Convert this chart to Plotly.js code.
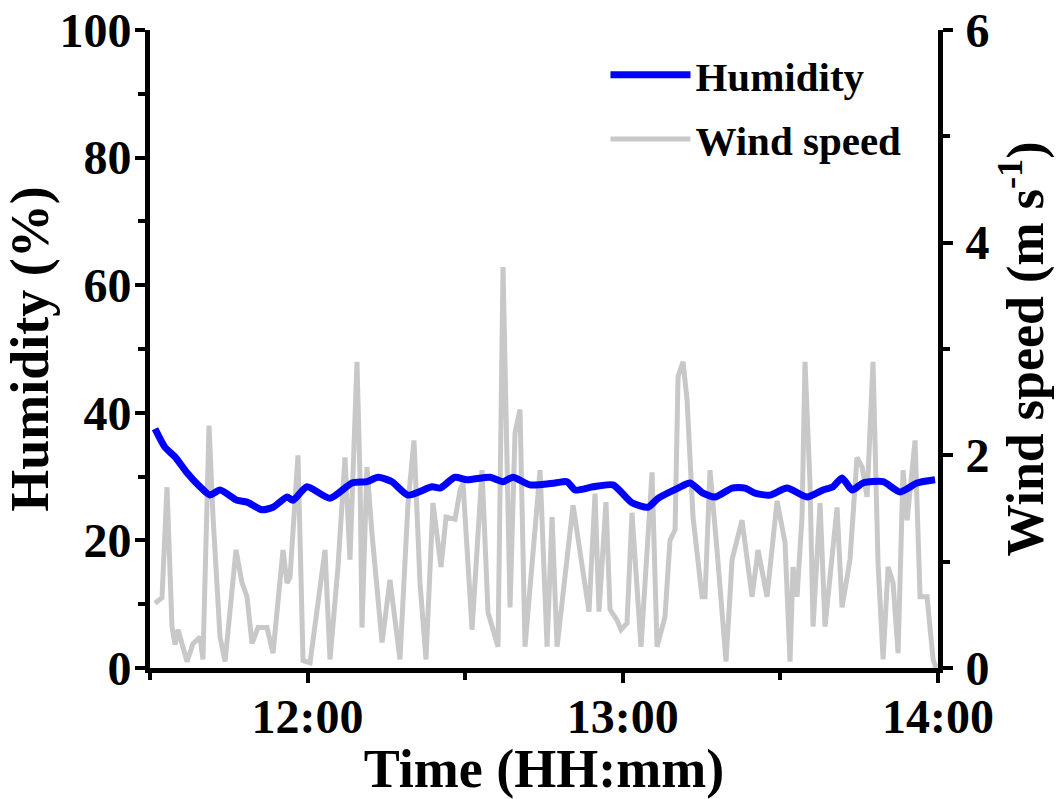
<!DOCTYPE html>
<html>
<head>
<meta charset="utf-8">
<script src="https://cdn.plot.ly/plotly-3.0.1.min.js"></script>
<style>html,body{margin:0;padding:0;background:#fff;}#chart{width:1057px;height:799px;}</style>
</head>
<body>
<div id="chart"></div>
<script>
var DAY = '2024-01-01 ';

var humidityTime = ['11:30:57','11:32:51','11:34:46','11:37:03','11:39:31','11:41:25','11:43:20','11:46:34','11:48:28','11:51:19','11:53:25','11:56:05','11:57:13','11:59:53','12:04:16','12:08:27','12:11:18','12:13:24','12:16:04','12:19:07','12:23:41','12:25:13','12:28:04','12:30:21','12:34:43','12:37:12','12:39:06','12:42:20','12:47:06','12:49:23','12:50:55','12:54:20','12:58:08','13:01:45','13:04:48','13:06:43','13:10:31','13:12:48','13:15:16','13:17:34','13:20:48','13:23:16','13:25:10','13:28:02','13:31:16','13:35:04','13:38:07','13:40:01','13:41:44','13:43:38','13:45:44','13:49:33','13:52:47','13:56:01','13:59:26'];
var humidity = [37.5,34.6,33.1,30.6,28.4,27.1,27.9,26.3,26.0,24.8,25.2,26.8,26.3,28.4,26.6,29.0,29.2,29.9,29.2,27.1,28.4,28.2,29.9,29.5,29.9,29.2,29.9,28.7,29.0,29.2,27.9,28.4,28.7,25.9,25.2,26.6,28.2,29.0,27.4,26.8,28.2,28.2,27.4,27.1,28.2,26.8,27.9,28.4,29.8,27.9,29.0,29.2,27.6,29.0,29.5];

var windTime = ['11:30:57','11:32:17','11:33:14','11:34:11','11:34:46','11:35:20','11:37:03','11:38:11','11:39:31','11:40:05','11:41:14','11:42:00','11:43:20','11:44:17','11:46:22','11:47:31','11:48:28','11:49:25','11:50:34','11:52:16','11:53:25','11:55:19','11:56:05','11:56:39','11:58:10','11:59:08','12:00:28','12:03:19','12:04:16','12:05:47','12:07:07','12:08:04','12:09:24','12:09:59','12:10:21','12:11:18','12:12:15','12:14:10','12:15:41','12:17:35','12:19:07','12:20:15','12:21:24','12:22:32','12:23:52','12:25:24','12:26:21','12:28:04','12:29:01','12:29:35','12:31:18','12:33:12','12:34:21','12:36:15','12:37:12','12:38:32','12:39:29','12:40:26','12:41:23','12:44:15','12:45:35','12:46:32','12:47:29','12:50:32','12:53:34','12:54:43','12:55:28','12:56:48','12:57:34','12:58:54','12:59:40','13:00:48','13:01:45','13:03:28','13:05:34','13:06:31','13:08:02','13:08:59','13:09:57','13:10:31','13:11:28','13:12:14','13:13:22','13:15:05','13:15:39','13:16:36','13:17:56','13:19:39','13:20:48','13:22:42','13:24:36','13:25:45','13:27:27','13:29:22','13:30:53','13:31:50','13:32:24','13:33:10','13:34:07','13:34:41','13:35:38','13:36:13','13:37:33','13:38:30','13:40:47','13:41:44','13:43:15','13:44:35','13:45:33','13:46:30','13:47:38','13:48:35','13:49:33','13:50:30','13:51:27','13:52:24','13:53:21','13:54:07','13:55:38','13:56:35','13:57:55','13:59:04','13:59:38'];
var windSpeed = [0.61,0.66,1.70,0.39,0.22,0.36,0.06,0.23,0.29,0.08,2.28,1.42,0.29,0.06,1.11,0.80,0.67,0.23,0.38,0.38,0.14,1.11,0.80,0.85,2.00,0.07,0.05,1.11,0.08,0.95,1.98,1.02,2.88,1.77,0.38,1.89,1.27,0.24,0.83,0.08,1.55,2.14,0.80,0.08,1.55,0.95,1.42,1.40,1.67,1.74,0.36,1.86,0.52,0.20,3.77,0.57,2.21,2.43,0.20,1.86,0.20,1.42,0.20,1.53,0.53,1.64,0.53,1.56,0.55,0.45,0.36,0.42,1.46,0.20,1.84,0.20,0.48,1.20,1.30,2.74,2.88,2.52,1.42,0.67,0.67,1.86,1.11,0.06,1.02,1.39,0.67,1.11,0.67,1.57,1.18,0.06,0.95,0.67,1.42,2.88,1.74,0.39,1.55,0.39,1.51,0.57,1.02,1.98,1.89,1.61,2.88,0.99,0.08,0.95,0.80,0.14,1.86,1.39,2.14,0.67,0.67,0.08,0.00];

var xTickVals = ['12:00','13:00','14:00'];
var humidityTicks = [0,20,40,60,80,100];
var windTicks = [0,2,4,6];

var FONT = 'Liberation Serif, Times New Roman, serif';

var traces = [
  {
    x: windTime.map(function(t){return DAY + t;}),
    y: windSpeed,
    type: 'scatter', mode: 'lines',
    name: 'Wind speed',
    yaxis: 'y',
    legendrank: 2, legendgroup: 'w',
    line: {color: '#c8c8c8', width: 5}
  },
  {
    x: humidityTime.map(function(t){return DAY + t;}),
    y: humidity,
    type: 'scatter', mode: 'lines',
    name: 'Humidity',
    yaxis: 'y2',
    legendrank: 1, legendgroup: 'h',
    line: {color: '#0000ff', width: 7, shape: 'spline', smoothing: 0.6}
  }
];

var tickFont = {family: FONT, size: 48, color: '#000', weight: 'bold'};
var titleFont = {family: FONT, size: 54, color: '#000', weight: 'bold'};
var titleFontR = {family: FONT, size: 52, color: '#000', weight: 'bold'};

var layout = {
  width: 1057, height: 799,
  paper_bgcolor: '#ffffff', plot_bgcolor: '#ffffff',
  font: {family: FONT, color: '#000', weight: 'bold'},
  margin: {l: 150, r: 119, t: 30, b: 131},
  showlegend: true,
  legend: {
    x: 0.578, y: 0.982, xanchor: 'left', yanchor: 'top',
    bgcolor: 'rgba(0,0,0,0)',
    font: {family: FONT, size: 41, color: '#000', weight: 'bold'},
    itemwidth: 80,
    tracegroupgap: 8
  },
  xaxis: {
    type: 'date',
    range: [DAY + '11:30:00', DAY + '14:00:00'],
    tickvals: xTickVals.map(function(t){return DAY + t;}),
    ticktext: xTickVals,
    showgrid: false, zeroline: false,
    showline: true, linecolor: '#000', linewidth: 5, mirror: false,
    ticks: 'outside', ticklen: 10, tickwidth: 4, tickcolor: '#000',
    ticklabelstandoff: -8,
    minor: {tickvals: [DAY + '11:30', DAY + '12:30', DAY + '13:30'], ticks: 'outside', ticklen: 7, tickwidth: 4, tickcolor: '#000', showgrid: false},
    tickfont: tickFont,
    title: {text: 'Time (HH:mm)', font: titleFont, standoff: 0}
  },
  yaxis: {
    side: 'right',
    range: [0, 6],
    tickvals: windTicks,
    showgrid: false, zeroline: false,
    showline: true, linecolor: '#000', linewidth: 5,
    ticks: 'outside', ticklen: 10, tickwidth: 4, tickcolor: '#000',
    ticklabelstandoff: 3,
    minor: {dtick: 1, ticks: 'outside', ticklen: 7, tickwidth: 4, tickcolor: '#000', showgrid: false},
    tickfont: tickFont,
    title: {text: 'Wind speed (m s<sup>-1</sup>)', font: titleFontR, standoff: 10}
  },
  yaxis2: {
    side: 'left', overlaying: 'y',
    range: [0, 100],
    tickvals: humidityTicks,
    showgrid: false, zeroline: false,
    showline: true, linecolor: '#000', linewidth: 5,
    ticks: 'outside', ticklen: 10, tickwidth: 4, tickcolor: '#000',
    ticklabelstandoff: -6,
    minor: {dtick: 10, ticks: 'outside', ticklen: 7, tickwidth: 4, tickcolor: '#000', showgrid: false},
    tickfont: tickFont,
    title: {text: 'Humidity (%)', font: titleFont, standoff: 6}
  }
};

Plotly.newPlot('chart', traces, layout, {displayModeBar: false, responsive: false});
</script>
</body>
</html>
